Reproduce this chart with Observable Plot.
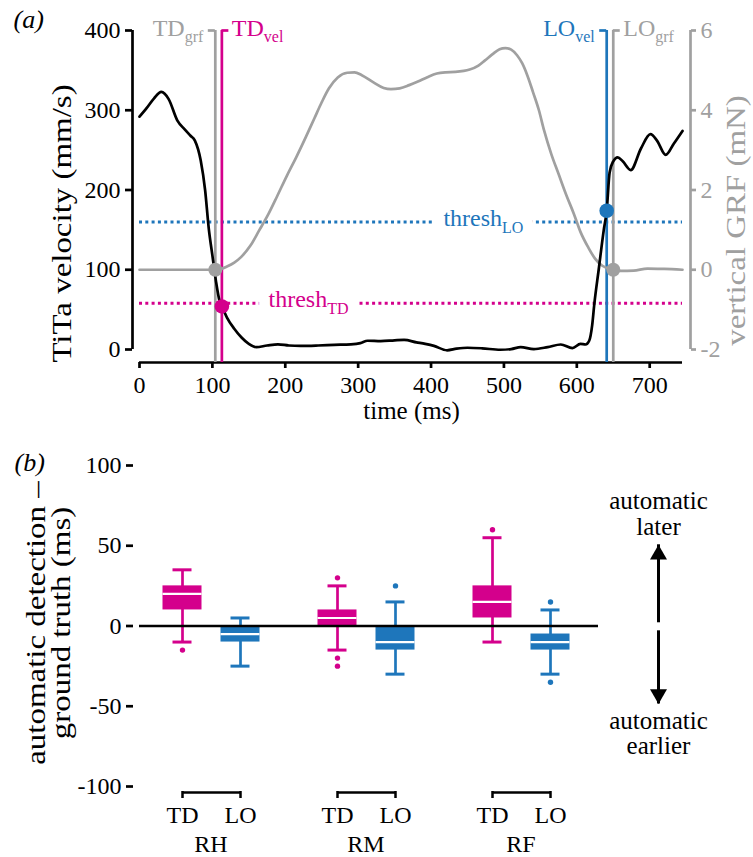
<!DOCTYPE html>
<html><head><meta charset="utf-8">
<script src="https://cdn.jsdelivr.net/npm/d3@7"></script>
<script src="https://cdn.jsdelivr.net/npm/@observablehq/plot@0.6"></script>
<style>
html,body{margin:0;padding:0;background:#fff;}
#chart{width:753px;height:857px;}
#chart svg{display:block;}
#chart svg, #chart svg text, #chart svg tspan{font-family:"Liberation Serif","Times New Roman",Times,serif !important;}
</style></head>
<body><div id="chart"></div>
<script>
// ---------- DATA ----------
// panel (a): TiTa velocity trace (time in ms, velocity in mm/s)
const velTime = [0,10,20,30,40,52,62,70,76,84,90,95,100,105,110,114,120,130,140,150,160,175,190,205,221,245,267,290,303,313,331,350,363,380,392,404,422,435,450,470,495,510,523,541,560,578,594,605,612,617,621,624,630,637,641,645,650,656,663,674,688,701,710,722,733,745];
const velocity = [292,303,315,323,314,287,276,268,262,237,200,152,118,85,60,52,40,26,15,7,3,5,6.5,5,4.5,5,5.8,6.5,8,11,10.5,11.5,12,9,7,4.5,-1,1,2.2,1.5,-0.3,0.5,3,0.5,3,6.3,1.7,7,6.3,11,30,57,100,150,174,222,236,241,236,225,252,270,262,244,258,274];
// panel (a): vertical ground reaction force (mN)
const grfTime = [0,50,90,104,112,120,130,140,152,164,177,189,202,215,228,240,250,260,272,285,295,305,321,335,345,357,370,382,395,408,420,433,453,465,474,484,494,502,510,518,525,532,540,548,555,565,575,585,596,605,616,625,635,645,650,660,678,697,720,745];
const grf = [0,0,0,0,0.02,0.08,0.18,0.33,0.6,0.98,1.4,1.85,2.35,2.82,3.32,3.8,4.2,4.55,4.82,4.94,4.95,4.88,4.7,4.56,4.53,4.55,4.63,4.72,4.83,4.92,4.95,4.96,5.02,5.12,5.25,5.4,5.53,5.56,5.52,5.38,5.18,4.88,4.45,4.0,3.5,2.9,2.4,1.9,1.4,0.95,0.55,0.28,0.1,0.02,0,-0.03,-0.02,0.03,0.02,0];
// detected events
const eventNames = ["TD","TD","LO","LO"];
const eventSubs = ["grf","vel","vel","grf"];
const eventTimes = [104,113,641,650];
// detection points
const velDotNames = ["TD","LO"];
const velDotTimes = [113,641];
const velDotValues = [54,174];
const grfDotTimes = [104,650];
const grfDotValues = [0,0];
// thresholds (mm/s) and where their labels sit (ms)
const threshNames = ["TD","LO"];
const threshValues = [58,160];
const threshLabelTimes = [177,417];
// axes
const timeDomain = [0,745];
const velDomain = [0,400];
const timeTicks = [0,100,200,300,400,500,600,700];
const velTicks = [0,100,200,300,400];
const grfTicks = [-2,0,2,4,6];

// panel (b): automatic detection - ground truth (ms)
const joints = ["RH","RM","RF"];
const events = ["TD","LO"];
// order: RH-TD, RH-LO, RM-TD, RM-LO, RF-TD, RF-LO
const whiskerLow  = [-10,-25,-15,-30,-10,-30];
const quart1      = [10,-10,0,-15,5,-15];
const median      = [20,-5,5,-10,15,-10];
const quart3      = [25,0,10,0,25,-5];
const whiskerHigh = [35,5,25,15,55,10];
const outliers    = [[-15],[],[30,-20,-25],[25],[60],[15,-35]];
const diffDomain = [-100,100];
const diffTicks = [-100,-50,0,50,100];
const laterText = "automatic\nlater", laterY = 57;
const earlierText = "automatic\nearlier", earlierY = -80;
const arrowFrom = [2,-3];
const arrowTo = [50.6,-48.6];

// ---------- STYLE ----------
const FONT = "'Liberation Serif','Times New Roman',Times,serif";
const magenta = "#d4008c", blue = "#1e76bb", grey = "#a0a0a0";
const TICK = 24, LABEL = 24, SUB = 16, TITLE = 27, XTITLE = 25;
const TITLE_STRETCH = 1.22;
const SW = 2.7;
const ctx = document.createElement("canvas").getContext("2d");
const tw = (s, size) => { ctx.font = `${size}px 'Liberation Serif'`; return ctx.measureText(s).width; };
const grfToVel = g => 100 + 50 * g;
const velToGrf = v => (v - 100) / 50;
const leftLabel = {TDgrf: true, TDvel: false, LOvel: true, LOgrf: false};

// ---------- PANEL A ----------
const velRows = velTime.map((t, i) => ({t, v: velocity[i]}));
const grfRows = grfTime.map((t, i) => ({t, g: grf[i]}));
const eventRows = eventNames.map((name, i) => ({name, sub: eventSubs[i], t: eventTimes[i], key: eventSubs[i] === "grf" ? "grf" : name}));
const threshRows = threshNames.map((name, i) => ({name, value: threshValues[i], labelT: threshLabelTimes[i]}));
const velDots = velDotNames.map((name, i) => ({name, t: velDotTimes[i], v: velDotValues[i]}));
const grfDots = grfDotTimes.map((t, i) => ({t, g: grfDotValues[i]}));

const eventMarks = eventRows.flatMap(row => {
  const left = leftLabel[row.name + row.sub];
  const mainW = tw(row.name, LABEL), subW = tw(row.sub, SUB);
  const gap = left ? 12 : 10;
  return [
    Plot.ruleX([row], {x: "t", stroke: "key", strokeWidth: SW}),
    Plot.ruleY([row], {x1: "t", x2: "t", y: velDomain[1], stroke: "key", strokeWidth: SW, [left ? "insetLeft" : "insetRight"]: -7}),
    Plot.text([row], {x: "t", y: velDomain[1], text: "name", fill: "key", fontSize: LABEL, lineAnchor: "bottom", textAnchor: left ? "end" : "start", dx: left ? -(gap + subW) : gap, dy: 5}),
    Plot.text([row], {x: "t", y: velDomain[1], text: "sub", fill: "key", fontSize: SUB, lineAnchor: "bottom", textAnchor: left ? "end" : "start", dx: left ? -gap : gap + mainW, dy: 11})
  ];
});

const threshMain = {x: "labelT", y: "value", text: () => "thresh", fontSize: LABEL, textAnchor: "start", lineAnchor: "bottom", dy: 4};
const threshSub = {x: "labelT", y: "value", text: "name", fontSize: SUB, textAnchor: "start", lineAnchor: "bottom", dx: tw("thresh", LABEL), dy: 11};
const halo = {fill: "white", stroke: "white", strokeWidth: 22, strokeLinejoin: "round"};

const A = Plot.plot({
  width: 753, height: 440,
  marginLeft: 132, marginRight: 63, marginTop: 30, marginBottom: 78,
  style: {fontFamily: FONT, fontSize: TICK + "px", background: "white", overflow: "visible"},
  x: {domain: timeDomain, range: [139, 682]},
  y: {domain: velDomain, range: [349, 30]},
  color: {domain: ["grf","TD","LO"], range: [grey, magenta, blue]},
  marks: [
    // axes
    Plot.ruleX([timeDomain[0]], {y1: velDomain[0], y2: velDomain[1], dx: -7, strokeWidth: SW}),
    Plot.ruleX([timeDomain[1]], {y1: velDomain[0], y2: velDomain[1], dx: 8, strokeWidth: SW, stroke: grey}),
    Plot.ruleY([velDomain[0]], {x1: timeDomain[0], x2: timeDomain[1], dy: 13, strokeWidth: SW}),
    Plot.axisY(velTicks, {anchor: "left", tickSize: 7, tickPadding: 5, strokeWidth: SW, label: null, tickFormat: d => String(d)}),
    Plot.axisY(grfTicks.map(grfToVel), {anchor: "right", tickSize: 5, tickPadding: 5, strokeWidth: SW, color: grey, label: null, tickFormat: d => String(velToGrf(d))}),
    Plot.axisX(timeTicks, {anchor: "bottom", tickSize: 6, tickPadding: 7, strokeWidth: SW, label: null, tickFormat: d => String(d)}),
    Plot.text(["TiTa velocity (mm/s)"], {frameAnchor: "left", text: d => d, rotate: -90, textAnchor: "middle", lineAnchor: "bottom", dx: -62, dy: 27, fontSize: TITLE}),
    Plot.text(["vertical GRF (mN)"], {frameAnchor: "right", text: d => d, rotate: -90, textAnchor: "middle", lineAnchor: "bottom", dx: 54, dy: 24, fontSize: TITLE, fill: grey}),
    Plot.text(["time (ms)"], {frameAnchor: "bottom", text: d => d, textAnchor: "middle", lineAnchor: "bottom", dy: 56, fontSize: XTITLE}),
    Plot.text(["(a)"], {frameAnchor: "top-left", text: d => d, textAnchor: "start", lineAnchor: "bottom", dx: -119, dy: -3, fontSize: 26, fontStyle: "italic"}),
    // thresholds
    Plot.ruleY(threshRows, {y: "value", x1: timeDomain[0], x2: timeDomain[1], stroke: "name", strokeWidth: 3, strokeDasharray: "3,3.3"}),
    Plot.text(threshRows, {...threshMain, ...halo}),
    Plot.text(threshRows, {...threshSub, ...halo}),
    Plot.text(threshRows, {...threshMain, fill: "name"}),
    Plot.text(threshRows, {...threshSub, fill: "name"}),
    // event lines + labels
    ...eventMarks,
    // traces
    Plot.line(grfRows, {x: "t", y: d => grfToVel(d.g), stroke: grey, strokeWidth: SW, curve: "monotone-x"}),
    Plot.line(velRows, {x: "t", y: "v", stroke: "black", strokeWidth: SW, curve: "monotone-x"}),
    // detection dots
    Plot.dot(grfDots, {x: "t", y: d => grfToVel(d.g), r: 7, fill: grey}),
    Plot.dot(velDots, {x: "t", y: "v", r: 7.3, fill: "name"})
  ]
});

// ---------- PANEL B ----------
const boxes = joints.flatMap((joint, gi) => events.map((event, ei) => {
  const k = gi * events.length + ei;
  return {joint, event, lo: whiskerLow[k], q1: quart1[k], med: median[k], q3: quart3[k], hi: whiskerHigh[k]};
}));
const outlierRows = boxes.flatMap((b, k) => outliers[k].map(value => ({joint: b.joint, event: b.event, value})));
const arrowRows = arrowFrom.map((from, i) => ({from, to: arrowTo[i], up: arrowTo[i] > from}));
const fxRF = () => joints[joints.length - 1];
const xLO = () => events[events.length - 1];
const ANX = 108;

const B = Plot.plot({
  width: 753, height: 417,
  marginLeft: 132, marginRight: 155, marginTop: 25, marginBottom: 71,
  style: {fontFamily: FONT, fontSize: TICK + "px", background: "white", overflow: "visible"},
  fx: {domain: joints, padding: 0, axis: null},
  x: {domain: events, paddingInner: 0, paddingOuter: 0.316, axis: null},
  y: {domain: diffDomain},
  color: {domain: events, range: [magenta, blue]},
  marks: [
    Plot.axisY(diffTicks, {anchor: "left", tickSize: 7, tickPadding: 5, strokeWidth: SW, label: null, line: true, tickFormat: d => String(d)}),
    Plot.text(["automatic detection –\nground truth (ms)"], {fx: () => joints[0], frameAnchor: "left", text: d => d, rotate: -90, textAnchor: "middle", lineAnchor: "bottom", lineHeight: 0.9, dx: -64, dy: -3, fontSize: TITLE}),
    Plot.text(["(b)"], {fx: () => joints[0], frameAnchor: "top-left", text: d => d, textAnchor: "start", lineAnchor: "bottom", dx: -119, dy: 5, fontSize: 26, fontStyle: "italic"}),
    // whiskers
    Plot.ruleX(boxes, {fx: "joint", x: "event", y1: "lo", y2: "hi", stroke: "event", strokeWidth: SW}),
    Plot.tickY(boxes, {fx: "joint", x: "event", y: "lo", stroke: "event", strokeWidth: 3, insetLeft: 19.5, insetRight: 19.5}),
    Plot.tickY(boxes, {fx: "joint", x: "event", y: "hi", stroke: "event", strokeWidth: 3, insetLeft: 19.5, insetRight: 19.5}),
    // boxes
    Plot.barY(boxes, {fx: "joint", x: "event", y1: "q1", y2: "q3", fill: "event", insetLeft: 9.5, insetRight: 9.5}),
    Plot.tickY(boxes, {fx: "joint", x: "event", y: "med", stroke: "white", strokeWidth: 2.2, insetLeft: 9.5, insetRight: 9.5}),
    Plot.dot(outlierRows, {fx: "joint", x: "event", y: "value", fill: "event", r: 2.7}),
    // zero line
    Plot.ruleY([joints[0]], {fx: d => d, y: 0, strokeWidth: 2.5, insetLeft: 6}),
    Plot.ruleY(joints.slice(1), {fx: d => d, y: 0, strokeWidth: 2.5}),
    // group brackets and labels
    Plot.link(joints, {fx: d => d, x1: () => events[0], x2: () => events[1], y1: diffDomain[0], y2: diffDomain[0], dy: 6, stroke: "black", strokeWidth: 2.5}),
    Plot.ruleX(boxes, {fx: "joint", x: "event", y1: diffDomain[0], y2: diffDomain[0], insetTop: -1, insetBottom: -6, dy: 6, strokeWidth: 2.5}),
    Plot.text(boxes, {fx: "joint", x: "event", text: "event", frameAnchor: "bottom", lineAnchor: "bottom", dy: 36}),
    Plot.text(joints, {fx: d => d, text: d => d, frameAnchor: "bottom", textAnchor: "middle", lineAnchor: "bottom", dy: 65}),
    // direction annotation
    Plot.ruleX(arrowRows, {fx: fxRF, x: xLO, y1: "from", y2: "to", dx: ANX, strokeWidth: 3}),
    Plot.dot(arrowRows.filter(d => d.up), {fx: fxRF, x: xLO, y: "to", symbol: "triangle", r: 6.3, fill: "black", dx: ANX, dy: 9.8}),
    Plot.dot(arrowRows.filter(d => !d.up), {fx: fxRF, x: xLO, y: "to", symbol: "triangle", rotate: 180, r: 6.3, fill: "black", dx: ANX, dy: -9.8}),
    Plot.text([laterText], {fx: fxRF, x: xLO, y: laterY, text: d => d, textAnchor: "middle", lineAnchor: "bottom", lineHeight: 1.03, dx: ANX, fontSize: 25}),
    Plot.text([earlierText], {fx: fxRF, x: xLO, y: earlierY, text: d => d, textAnchor: "middle", lineAnchor: "bottom", lineHeight: 1.03, dx: ANX, fontSize: 25})
  ]
});

// axis titles in the reference are drawn elongated along their length
for (const svg of [A, B]) {
  svg.querySelectorAll("text").forEach(t => {
    const tr = t.getAttribute("transform") || "";
    if (/rotate\(\s*-?90\s*\)/.test(tr)) t.setAttribute("transform", `${tr} scale(${TITLE_STRETCH},1)`);
  });
}

const chart = document.getElementById("chart");
chart.append(A, B);
</script>
</body></html>
